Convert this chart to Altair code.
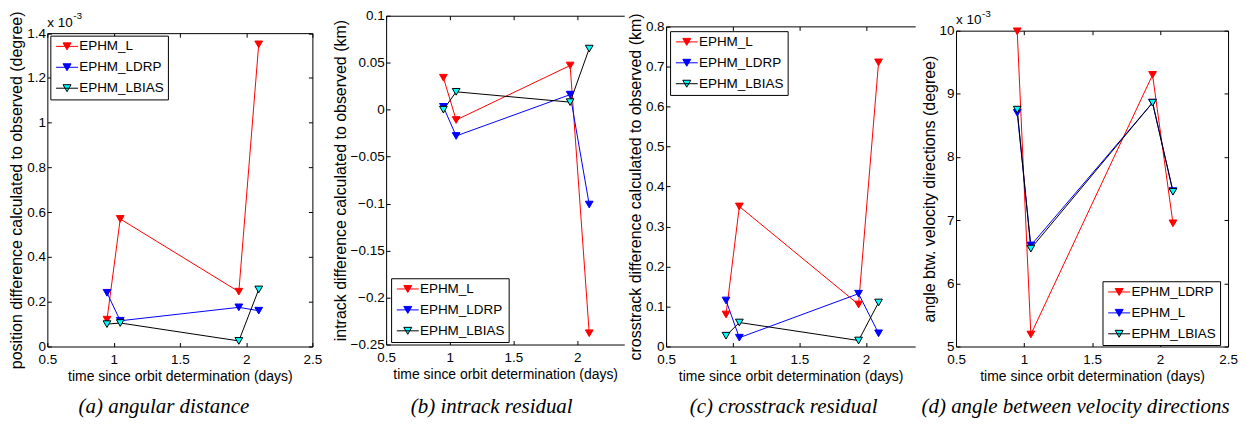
import altair as alt
import pandas as pd

# ---------------- data ----------------
X = [0.95, 1.05, 1.945, 2.095]

# (a) angular distance, units of 1e-3 degree
A_NAMES = ["EPHM_L", "EPHM_LDRP", "EPHM_LBIAS"]
A_L = [0.12, 0.57, 0.245, 1.35]
A_LDRP = [0.24, 0.115, 0.175, 0.16]
A_LBIAS = [0.10, 0.105, 0.025, 0.255]

# (b) intrack residual, km
B_NAMES = ["EPHM_L", "EPHM_LDRP", "EPHM_LBIAS"]
B_L = [0.034, -0.011, 0.047, -0.238]
B_LDRP = [0.003, -0.028, 0.016, -0.101]
B_LBIAS = [0.0, 0.019, 0.008, 0.065]

# (c) crosstrack residual, km
C_NAMES = ["EPHM_L", "EPHM_LDRP", "EPHM_LBIAS"]
C_L = [0.08, 0.35, 0.105, 0.71]
C_LDRP = [0.115, 0.022, 0.132, 0.033]
C_LBIAS = [0.027, 0.06, 0.015, 0.11]

# (d) angle between velocity directions, units of 1e-3 degree
D_NAMES = ["EPHM_LDRP", "EPHM_L", "EPHM_LBIAS"]
D_LDRP = [9.99, 5.19, 9.3, 6.95]
D_L = [8.7, 6.6, 8.86, 7.46]
D_LBIAS = [8.75, 6.55, 8.86, 7.45]

XTICKS_FULL = [0.5, 1.0, 1.5, 2.0, 2.5]
XTICKS_CUT = [0.5, 1.0, 1.5, 2.0]
A_YTICKS = [0, 0.2, 0.4, 0.6, 0.8, 1.0, 1.2, 1.4]
B_YTICKS = [-0.25, -0.2, -0.15, -0.1, -0.05, 0, 0.05, 0.1]
C_YTICKS = [0, 0.1, 0.2, 0.3, 0.4, 0.5, 0.6, 0.7, 0.8]
D_YTICKS = [5, 6, 7, 8, 9, 10]

XTITLE = "time since orbit determination (days)"
LINE_COLORS = ["#ff0000", "#0000ff", "#000000"]
FACE_COLORS = ["#ff0000", "#0000ff", "#00ffff"]

SANS = "Liberation Sans"
SERIF = "Liberation Serif"
HV = 332
# legend glyph: 22px line with a down-pointing triangle in its middle
LEG_PATH = "M-2.2,0L2.2,0M-0.8,-0.7L0.8,-0.7L0,0.7Z"


def panel(names, series, ydom, yticks, xmax, xticks, W, t, bt,
          right_border, ytitle, caption, cap_x, leg_x, leg_y, exponent):
    rows = []
    for n, vals in zip(names, series):
        for xv, yv in zip(X, vals):
            rows.append({"x": xv, "y": yv, "series": n})
    df = pd.DataFrame(rows)
    xs = alt.Scale(domain=[0.5, xmax], nice=False, zero=False)
    ysc = alt.Scale(domain=ydom, range=[bt, t], nice=False, zero=False)
    sscale = alt.Scale(domain=names, range=LINE_COLORS)
    fscale = alt.Scale(domain=names, range=FACE_COLORS)
    base = alt.Chart(df)

    leg = alt.Legend(
        title=None, orient="none", legendX=leg_x, legendY=leg_y,
        symbolType=LEG_PATH, symbolSize=100, symbolStrokeWidth=1,
        symbolOffset=6, symbolOpacity=1, labelFont=SANS, labelFontSize=13.5,
        labelColor="black", strokeColor="black", fillColor="white",
        padding=4, rowPadding=6, labelOffset=5.5)

    lines = base.mark_line(strokeWidth=1).encode(
        x=alt.X("x:Q", scale=xs, axis=alt.Axis(
            orient="bottom", offset=bt - HV, values=xticks, format="~r",
            ticks=False, domain=True, labelPadding=6, labelFlush=False,
            title=XTITLE, titleFontSize=14, titlePadding=4)),
        y=alt.Y("y:Q", scale=ysc, axis=alt.Axis(
            orient="left", values=yticks, format="~r", ticks=False,
            domain=True, labelPadding=2, title=ytitle, titleFontSize=16,
            titlePadding=2)),
        stroke=alt.Stroke("series:N", scale=sscale, legend=leg),
    )
    pts = base.mark_point(shape="triangle-down", filled=True, size=60,
                          opacity=1, strokeWidth=1).encode(
        x=alt.X("x:Q", scale=xs, axis=None),
        y=alt.Y("y:Q", scale=ysc, axis=None),
        fill=alt.Fill("series:N", scale=fscale, legend=leg),
        stroke=alt.Stroke("series:N", scale=sscale, legend=leg),
    )
    # inward ticks on the lower and left edges
    ax1 = base.mark_point(opacity=0).encode(
        x=alt.X("x:Q", scale=xs, axis=alt.Axis(
            orient="top", offset=-bt, values=xticks, labels=False,
            domain=False, tickSize=4, title=None)),
        y=alt.Y("y:Q", scale=ysc, axis=alt.Axis(
            orient="right", offset=-W, values=yticks, labels=False,
            domain=False, tickSize=4, title=None)),
    )
    # top border (+ right border) with inward ticks
    yax2 = None
    if right_border:
        yax2 = alt.Axis(orient="left", offset=-W, values=yticks, labels=False,
                        domain=True, tickSize=4, title=None)
    ax2 = base.mark_point(opacity=0).encode(
        x=alt.X("x:Q", scale=xs, axis=alt.Axis(
            orient="bottom", offset=t - HV, values=xticks, labels=False,
            domain=True, tickSize=4, title=None)),
        y=alt.Y("y:Q", scale=ysc, axis=yax2),
    )
    one = pd.DataFrame({"k": [0]})
    cap = alt.Chart(one).mark_text(
        font=SERIF, fontStyle="italic", fontSize=21, align="center",
        baseline="alphabetic", color="black", text=caption,
    ).encode(x=alt.value(cap_x), y=alt.value(399))
    layers = [ax1, ax2, lines, pts, cap]
    if exponent:
        e1 = alt.Chart(one).mark_text(
            font=SANS, fontSize=13.5, align="left", baseline="alphabetic",
            color="black", text="x 10",
        ).encode(x=alt.value(0), y=alt.value(t - 6.5))
        e2 = alt.Chart(one).mark_text(
            font=SANS, fontSize=10, align="left", baseline="alphabetic",
            color="black", text="-3",
        ).encode(x=alt.value(26), y=alt.value(t - 14))
        layers += [e1, e2]
    return alt.layer(*layers).resolve_axis(
        x="independent", y="independent").properties(width=W, height=HV)


def spacer(w):
    return alt.Chart(pd.DataFrame({"k": [0]})).mark_point(opacity=0).encode(
        x=alt.value(0), y=alt.value(0)).properties(width=w, height=HV)


pa = panel(A_NAMES, [A_L, A_LDRP, A_LBIAS], [0, 1.4], A_YTICKS, 2.5,
           XTICKS_FULL, 266, 17.5, 332, True,
           "position difference calculated to observed (degree)",
           "(a) angular distance", 117, 3, 20, True)
pb = panel(B_NAMES, [B_L, B_LDRP, B_LBIAS], [-0.25, 0.1], B_YTICKS, 2.37,
           XTICKS_CUT, 239, 0, 330, False,
           "intrack difference calculated to observed (km)",
           "(b) intrack residual", 106, 5, 263.5, False)
pc = panel(C_NAMES, [C_L, C_LDRP, C_LBIAS], [0, 0.8], C_YTICKS, 2.37,
           XTICKS_CUT, 250, 10.7, 332, False,
           "crosstrack difference calculated to observed (km)",
           "(c) crosstrack residual", 118, 4, 15.5, False)
pd_ = panel(D_NAMES, [D_LDRP, D_L, D_LBIAS], [5, 10], D_YTICKS, 2.5,
            XTICKS_FULL, 273, 15, 332, True,
            "angle btw.  velocity directions (degree)",
            "(d) angle between velocity directions", 120, 147, 266.5, True)

chart = alt.hconcat(pa, spacer(74), pb, spacer(42), pc, spacer(41), pd_,
                    spacing=0, bounds="flush").resolve_scale(
    fill="independent", stroke="independent"
).resolve_legend(
    fill="independent", stroke="independent"
).configure_view(
    stroke=None
).configure_axis(
    labelFont=SANS, labelFontSize=13.5, labelColor="black",
    titleFont=SANS, titleFontWeight="normal", titleColor="black",
    domainColor="black", domainWidth=1, tickColor="black", tickWidth=1,
    grid=False,
).properties(padding={"left": 0.5, "top": 0, "right": 0, "bottom": 0},
             background="white")

chart.save("out.html", embed_options={"renderer": "svg", "actions": False})
